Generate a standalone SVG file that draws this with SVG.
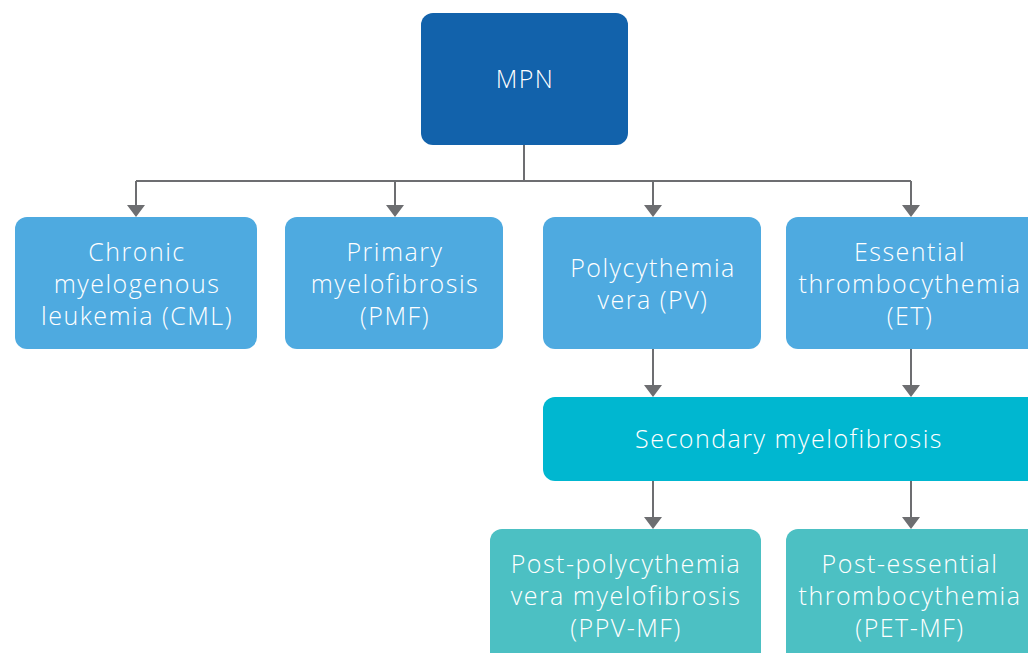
<svg xmlns="http://www.w3.org/2000/svg" width="1028" height="653" viewBox="0 0 1028 653">
<style>
.t{font-family:"Open Sans","Liberation Sans",sans-serif;font-size:25px;font-weight:300;letter-spacing:1.5px;fill:#ffffff;text-anchor:middle}
.c{stroke:#6d6e71;stroke-width:2;fill:none}
.a{fill:#6d6e71}
</style>
<rect width="1028" height="653" fill="#ffffff"/>
<g id="connectors">
<path class="c" d="M524 145V181M136 181H911M136 181V206M395 181V206M653 181V206M911 181V206M653 349V386M911 349V386M653 481V518M911 481V518"/>
<path class="a" d="M127 205H145L136 217ZM386 205H404L395 217ZM644 205H662L653 217ZM902 205H920L911 217ZM644 385H662L653 397ZM902 385H920L911 397ZM644 517H662L653 529ZM902 517H920L911 529Z"/>
</g>
<g id="mpn"><rect x="421" y="13" width="207" height="132" rx="12" fill="#1262ab"/><text class="t" x="525" y="88">MPN</text></g>
<g id="cml"><rect x="15" y="217" width="242" height="132" rx="12" fill="#4eaae0"/><text class="t" x="137" y="261">Chronic</text><text class="t" x="137" y="293">myelogenous</text><text class="t" x="137" y="325">leukemia (CML)</text></g>
<g id="pmf"><rect x="285" y="217" width="218" height="132" rx="12" fill="#4eaae0"/><text class="t" x="395" y="261">Primary</text><text class="t" x="395" y="293">myelofibrosis</text><text class="t" x="395" y="325">(PMF)</text></g>
<g id="pv"><rect x="543" y="217" width="218" height="132" rx="12" fill="#4eaae0"/><text class="t" x="653" y="277">Polycythemia</text><text class="t" x="653" y="309">vera (PV)</text></g>
<g id="et"><rect x="786" y="217" width="260" height="132" rx="12" fill="#4eaae0"/><text class="t" x="910" y="261">Essential</text><text class="t" x="910" y="293">thrombocythemia</text><text class="t" x="910" y="325">(ET)</text></g>
<g id="smf"><rect x="543" y="397" width="500" height="84" rx="12" fill="#00b7d0"/><text class="t" x="789" y="448">Secondary myelofibrosis</text></g>
<g id="ppvmf"><rect x="490" y="529" width="271" height="140" rx="12" fill="#4cc0c3"/><text class="t" x="626" y="573">Post-polycythemia</text><text class="t" x="626" y="605">vera myelofibrosis</text><text class="t" x="626" y="637">(PPV-MF)</text></g>
<g id="petmf"><rect x="786" y="529" width="260" height="140" rx="12" fill="#4cc0c3"/><text class="t" x="910" y="573">Post-essential</text><text class="t" x="910" y="605">thrombocythemia</text><text class="t" x="910" y="637">(PET-MF)</text></g>
</svg>
